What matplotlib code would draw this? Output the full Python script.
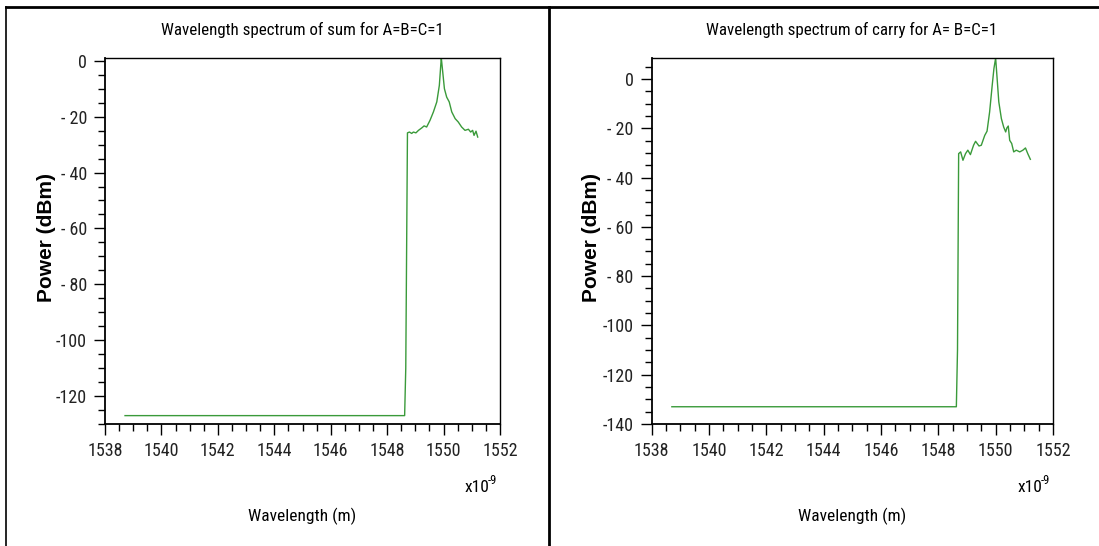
import matplotlib
matplotlib.use("Agg")
import matplotlib.pyplot as plt
from matplotlib.lines import Line2D
from matplotlib.ticker import MultipleLocator, FuncFormatter

plt.rcParams['font.family'] = ['Roboto Condensed', 'Liberation Sans', 'DejaVu Sans']

# sum output spectrum (wavelength in nm, power in dBm)
sum_wl = [1538.71, 1548.62, 1548.66, 1548.72, 1548.79, 1548.87, 1548.93, 1549.02,
          1549.11, 1549.23, 1549.31, 1549.40, 1549.52, 1549.64, 1549.76, 1549.85,
          1549.90, 1549.92, 1549.97, 1550.03, 1550.11, 1550.20, 1550.29, 1550.41,
          1550.52, 1550.64, 1550.76, 1550.88, 1550.96, 1551.03, 1551.08, 1551.15,
          1551.21]
sum_pw = [-127.0, -127.0, -110.0, -25.8, -25.5, -26.0, -25.5, -25.8,
          -24.9, -24.0, -23.3, -23.7, -21.3, -18.3, -14.7, -8.8,
          -1.6, 1.0, -4.0, -10.0, -13.0, -14.7, -18.3, -20.7,
          -21.9, -23.7, -24.9, -24.5, -25.5, -24.9, -26.7, -25.2,
          -27.3]

# carry output spectrum
carry_wl = [1538.71, 1548.63, 1548.67, 1548.71, 1548.78, 1548.86, 1548.95, 1549.03,
            1549.12, 1549.23, 1549.30, 1549.42, 1549.50, 1549.62, 1549.70, 1549.79,
            1549.88, 1549.94, 1550.00, 1550.06, 1550.11, 1550.20, 1550.28, 1550.35,
            1550.39, 1550.44, 1550.49, 1550.56, 1550.63, 1550.72, 1550.84, 1550.95,
            1551.04, 1551.12, 1551.21]
carry_pw = [-133.0, -133.0, -110.0, -30.3, -29.6, -33.0, -30.3, -28.9,
            -30.7, -26.9, -25.3, -27.2, -26.9, -22.9, -21.2, -13.4,
            -2.6, 4.2, 8.5, -1.2, -9.3, -16.1, -19.5, -21.5,
            -19.9, -19.1, -24.9, -26.2, -29.6, -28.9, -29.6, -28.9,
            -28.0, -30.3, -32.6]

titles = ["Wavelength spectrum of sum for A=B=C=1",
          "Wavelength spectrum of carry for A= B=C=1"]

W, H = 1099, 546
fig = plt.figure(figsize=(W / 100, H / 100), dpi=100)


def px_axes(x0, x1, y0, y1):
    return fig.add_axes([x0 / W, 1 - y1 / H, (x1 - x0) / W, (y1 - y0) / H])


def dash_fmt(v, pos):
    v = int(round(v))
    if v == 0:
        return "0"
    s = str(abs(v))
    return "-" + (" " + s if len(s) < 3 else s)


# axes, data, y range, centre x of the panel texts, x of the y label (pixels)
panels = [
    (px_axes(105, 500, 58, 424), sum_wl, sum_pw, (-130, 1), 302, 56),
    (px_axes(651.5, 1053, 58, 424), carry_wl, carry_pw, (-140, 8.5), 852, 601),
]

for i, (ax, wl, pw, ylim, cx, lx) in enumerate(panels):
    ax.plot(wl, pw, color='#3a9a3a', lw=1.0)
    ax.set_xlim(1538, 1552)
    ax.set_ylim(*ylim)
    ax.xaxis.set_major_locator(MultipleLocator(2))
    ax.xaxis.set_minor_locator(MultipleLocator(0.5))
    ax.yaxis.set_major_locator(MultipleLocator(20))
    ax.yaxis.set_minor_locator(MultipleLocator(5))
    ax.yaxis.set_major_formatter(FuncFormatter(dash_fmt))
    ax.tick_params(which='major', direction='out', length=8, width=1.0,
                   labelsize=13, color='black', labelcolor='#222222', pad=5)
    ax.tick_params(which='minor', direction='out', length=5, width=1.0,
                   color='black')
    for side in ['left', 'bottom']:
        ax.spines[side].set_linewidth(1.3)
    for side in ['top', 'right']:
        ax.spines[side].set_linewidth(1.0)
    pos = ax.get_position()
    ax.set_ylabel("Power (dBm)", fontsize=15, fontweight='bold',
                  family=['Liberation Sans', 'DejaVu Sans'])
    ax.yaxis.set_label_coords((lx - pos.x0 * W) / (pos.width * W), 0.51)

    fig.text(cx / W, 1 - 30 / H, titles[i], ha='center', va='center', fontsize=12.2)
    fig.text(cx / W, 1 - 516 / H, "Wavelength (m)", ha='center', va='center',
             fontsize=12.5)
    # scale factor note under the right end of the axis
    xr = pos.x1 * W
    fig.text((xr - 35) / W, 1 - 487 / H, "x10", ha='left', va='center', fontsize=12.5)
    fig.text((xr - 12) / W, 1 - 480 / H, "-9", ha='left', va='center', fontsize=9)

# table rules around the two charts
fig.add_artist(Line2D([6 / W, 1], [1 - 7 / H, 1 - 7 / H], color='black', lw=2.0,
                      transform=fig.transFigure))
fig.add_artist(Line2D([6 / W, 6 / W], [0, 1 - 7 / H], color='black', lw=1.2,
                      transform=fig.transFigure))
fig.add_artist(Line2D([549 / W, 549 / W], [0, 1 - 7 / H], color='black', lw=2.0,
                      transform=fig.transFigure))

fig.savefig("out.png", dpi=100)
